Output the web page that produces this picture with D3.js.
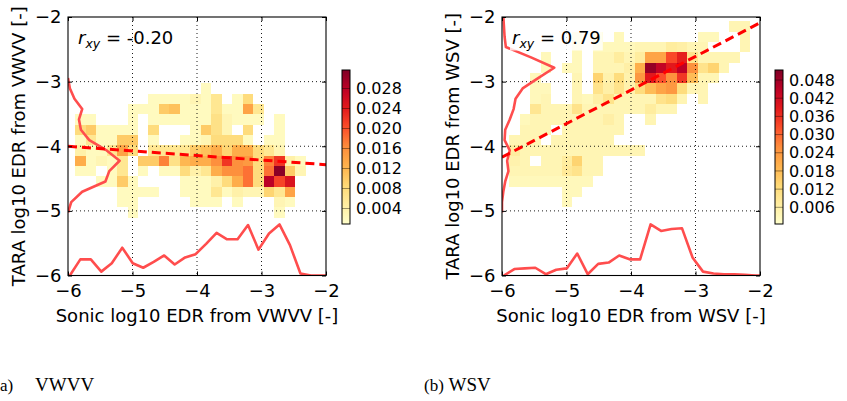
<!DOCTYPE html>
<html lang="en">
<head>
<meta charset="UTF-8">
<title>TARA vs sonic EDR</title>
<script src="https://d3js.org/d3.v7.min.js"></script>
<style>
  body { margin: 0; background: #fff; }
  svg text { font-family: "DejaVu Sans", sans-serif; fill: #000; }
  .caption { font-family: "Liberation Serif", "DejaVu Serif", serif; }
</style>
</head>
<body>
<svg width="847" height="401"></svg>
<script>
// histogram grid shared by both panels (log10 EDR)
const xBinStart = -5.89, xBinWidth = 0.1625;
const yBinStart = -2.065, yBinHeight = 0.16;

const axisTicks = [-6, -5, -4, -3, -2];
const vwvvBarTicks = [0.004, 0.008, 0.012, 0.016, 0.020, 0.024, 0.028];
const wsvBarTicks = [0.006, 0.012, 0.018, 0.024, 0.030, 0.036, 0.042, 0.048];
const vwvvBarRange = [0.0009, 0.0317];
const wsvBarRange = [0.0005, 0.0513];

// [row, column, density]; row 0 is the top bin, column 0 the left bin
const vwvvCells = [
  [6,12,.002],
  [7,7,.002],[7,8,.002],[7,9,.002],[7,10,.002],[7,11,.003],[7,12,.002],[7,13,.006],[7,15,.002],[7,16,.008],
  [8,5,.002],[8,6,.002],[8,7,.002],[8,8,.010],[8,9,.011],[8,10,.002],[8,11,.002],[8,12,.002],[8,13,.006],[8,14,.002],[8,15,.002],[8,16,.014],[8,17,.006],
  [9,0,.002],[9,1,.002],[9,5,.002],[9,7,.002],[9,8,.002],[9,9,.002],[9,10,.002],[9,11,.002],[9,12,.002],[9,13,.007],[9,14,.003],[9,15,.002],[9,16,.002],[9,17,.002],[9,19,.002],
  [10,0,.008],[10,1,.010],[10,2,.002],[10,3,.002],[10,4,.002],[10,5,.002],[10,7,.008],[10,11,.002],[10,12,.010],[10,13,.007],[10,14,.003],[10,16,.008],[10,19,.002],
  [11,0,.002],[11,1,.006],[11,2,.002],[11,3,.002],[11,4,.010],[11,5,.010],[11,7,.002],[11,10,.002],[11,11,.002],[11,12,.003],[11,13,.008],[11,14,.008],[11,15,.008],[11,16,.002],[11,18,.002],[11,19,.002],
  [12,0,.004],[12,1,.002],[12,2,.002],[12,3,.006],[12,4,.014],[12,5,.008],[12,7,.006],[12,8,.006],[12,9,.006],[12,10,.006],[12,11,.010],[12,12,.011],[12,13,.013],[12,14,.009],[12,15,.013],[12,16,.013],[12,17,.008],[12,18,.006],[12,19,.003],
  [13,0,.013],[13,1,.002],[13,2,.003],[13,3,.002],[13,4,.006],[13,6,.010],[13,7,.010],[13,8,.017],[13,9,.007],[13,10,.012],[13,11,.013],[13,12,.013],[13,13,.016],[13,14,.022],[13,15,.016],[13,16,.015],[13,17,.008],[13,18,.017],[13,19,.022],[13,20,.004],[13,21,.002],
  [14,0,.002],[14,1,.002],[14,3,.002],[14,4,.006],[14,6,.002],[14,8,.002],[14,9,.002],[14,10,.008],[14,11,.004],[14,12,.006],[14,13,.013],[14,14,.016],[14,15,.016],[14,16,.018],[14,17,.008],[14,18,.018],[14,19,.031],[14,20,.010],[14,21,.003],
  [15,2,.002],[15,3,.002],[15,4,.010],[15,5,.002],[15,10,.002],[15,11,.002],[15,12,.002],[15,13,.004],[15,14,.008],[15,15,.013],[15,16,.018],[15,17,.008],[15,18,.028],[15,19,.021],[15,20,.025],
  [16,4,.002],[16,5,.002],[16,6,.002],[16,7,.002],[16,10,.002],[16,11,.002],[16,12,.002],[16,13,.006],[16,14,.002],[16,15,.004],[16,16,.003],[16,17,.003],[16,18,.009],[16,19,.006],[16,20,.014],
  [17,4,.002],[17,5,.002],[17,11,.002],[17,12,.002],[17,13,.002],[17,15,.002],[17,19,.003],[17,20,.002],
  [18,5,.002],[18,19,.002]
];

const wsvCells = [
  [0,21,.004],[0,22,.004],
  [1,6,.003],[1,8,.003],[1,10,.003],[1,18,.003],[1,19,.003],[1,22,.004],
  [2,6,.003],[2,8,.003],[2,9,.003],[2,10,.003],[2,11,.003],[2,12,.004],[2,13,.004],[2,14,.004],[2,15,.007],[2,16,.006],[2,17,.004],[2,18,.004],[2,22,.004],
  [3,3,.003],[3,6,.003],[3,8,.004],[3,9,.004],[3,10,.007],[3,11,.004],[3,12,.007],[3,13,.022],[3,14,.022],[3,15,.033],[3,16,.038],[3,17,.010],[3,18,.004],[3,19,.004],[3,20,.004],[3,21,.004],
  [4,3,.003],[4,5,.003],[4,6,.003],[4,8,.004],[4,9,.004],[4,10,.004],[4,11,.006],[4,12,.020],[4,13,.049],[4,14,.044],[4,15,.039],[4,16,.045],[4,17,.025],[4,18,.010],[4,19,.014],[4,20,.004],
  [5,2,.003],[5,6,.004],[5,8,.014],[5,9,.005],[5,10,.012],[5,11,.005],[5,12,.024],[5,13,.039],[5,14,.032],[5,15,.025],[5,16,.035],[5,17,.018],[5,18,.004],[5,19,.004],
  [6,2,.003],[6,3,.003],[6,6,.004],[6,8,.010],[6,9,.006],[6,10,.010],[6,11,.005],[6,12,.012],[6,13,.018],[6,14,.022],[6,15,.024],[6,16,.012],[6,17,.004],[6,18,.004],
  [7,2,.003],[7,3,.004],[7,6,.004],[7,7,.003],[7,8,.006],[7,9,.010],[7,10,.004],[7,11,.004],[7,12,.004],[7,13,.004],[7,14,.010],[7,15,.012],[7,16,.004],[7,18,.004],
  [8,2,.009],[8,3,.004],[8,4,.004],[8,5,.004],[8,6,.010],[8,7,.004],[8,8,.004],[8,9,.004],[8,10,.004],[8,11,.004],[8,12,.004],[8,13,.007],[8,14,.004],[8,15,.004],
  [9,1,.003],[9,2,.004],[9,3,.004],[9,4,.004],[9,5,.004],[9,6,.004],[9,7,.004],[9,8,.004],[9,9,.006],[9,10,.004],[9,13,.004],
  [10,1,.004],[10,2,.004],[10,3,.004],[10,5,.004],[10,6,.004],[10,7,.004],[10,8,.004],[10,9,.004],[10,10,.004],
  [11,0,.004],[11,1,.004],[11,2,.004],[11,4,.004],[11,5,.004],[11,6,.004],[11,7,.004],[11,8,.004],[11,9,.004],
  [12,0,.007],[12,1,.004],[12,2,.004],[12,3,.004],[12,4,.004],[12,5,.004],[12,6,.004],[12,7,.004],[12,8,.004],[12,9,.004],[12,10,.004],[12,11,.004],[12,12,.004],
  [13,0,.005],[13,1,.004],[13,3,.004],[13,4,.004],[13,5,.007],[13,6,.014],[13,7,.004],[13,8,.004],
  [14,0,.004],[14,1,.004],[14,2,.004],[14,3,.004],[14,4,.004],[14,5,.008],[14,6,.010],[14,7,.004],[14,8,.004],
  [15,0,.003],[15,1,.003],[15,2,.003],[15,3,.003],[15,4,.003],[15,5,.003],[15,6,.003],[15,7,.003],
  [16,5,.003],[16,6,.003],
  [17,5,.003]
];

// marginal distributions drawn along the axes (in axis units)
const vwvvMarginXStart = -1;
const vwvvMarginX = [-6.0, -5.75, -5.75, -5.94, -5.81, -5.57, -5.81, -5.88, -5.79, -5.69, -5.83, -5.72, -5.67,
  -5.51, -5.34, -5.44, -5.44, -5.22, -5.60, -5.35, -5.21, -5.53, -5.97, -6.0, -6.0, -6.0];
const wsvMarginXStart = -1;
const wsvMarginX = [-6.0, -5.90, -5.89, -5.88, -5.98, -5.91, -5.89, -5.66, -5.98, -5.82, -5.80, -5.69, -5.75,
  -5.75, -5.21, -5.31, -5.28, -5.27, -5.72, -5.94, -5.97, -5.98, -5.98, -5.99, -6.0, -6.0];
const vwvvMarginYStart = 5;
const vwvvMarginY = [-6.0, -5.97, -5.90, -5.78, -5.83, -5.80, -5.67, -5.40, -5.20, -5.36, -5.42, -5.78, -5.95, -6.0];
const wsvMarginYStart = -1;
const wsvMarginY = [-5.98, -5.97, -5.96, -5.94, -5.55, -5.19, -5.44, -5.68, -5.79, -5.82, -5.88, -5.95, -5.96,
  -5.88, -5.92, -5.90, -5.95, -5.98, -6.0, -6.0];

// linear fits [slope, intercept]
const vwvvFit = [-0.0713, -4.428];
const wsvFit = [0.52, -1.05];
const vwvvCorr = "-0.20";
const wsvCorr = "0.79";

const ylOrRd = ["#ffffcc", "#ffeda0", "#fed976", "#feb24c", "#fd8d3c", "#fc4e2a", "#e31a1c", "#bd0026", "#800026"];

const svg = d3.select("svg");
const plotTop = 17, plotW = 258, plotH = 258.5;
const margColor = "#ff4d4d";

const panels = [
  { id: "a", left: 68, barLeft: 342, cells: vwvvCells, mx: vwvvMarginX, mxStart: vwvvMarginXStart,
    my: vwvvMarginY, myStart: vwvvMarginYStart, fit: vwvvFit, corr: vwvvCorr, range: vwvvBarRange,
    barTicks: vwvvBarTicks, xLabel: "Sonic log10 EDR from VWVV [-]", yLabel: "TARA log10 EDR from VWVV [-]", box: false },
  { id: "b", left: 502, barLeft: 775, cells: wsvCells, mx: wsvMarginX, mxStart: wsvMarginXStart,
    my: wsvMarginY, myStart: wsvMarginYStart, fit: wsvFit, corr: wsvCorr, range: wsvBarRange,
    barTicks: wsvBarTicks, xLabel: "Sonic log10 EDR from WSV [-]", yLabel: "TARA log10 EDR from WSV [-]", box: true }
];

const defs = svg.append("defs");

panels.forEach(p => {
  const x = d3.scaleLinear().domain([-6, -2]).range([p.left, p.left + plotW]);
  const y = d3.scaleLinear().domain([-6, -2]).range([plotTop + plotH, plotTop]);
  const [lo, hi] = p.range;
  const color = d3.scaleLinear()
    .domain(ylOrRd.map((_, i) => lo + i * (hi - lo) / (ylOrRd.length - 1)))
    .range(ylOrRd).clamp(true);

  const xEdge = c => xBinStart + c * xBinWidth;
  const yEdge = r => yBinStart - r * yBinHeight;

  defs.append("clipPath").attr("id", "clip-" + p.id)
    .append("rect").attr("x", p.left).attr("y", plotTop).attr("width", plotW).attr("height", plotH);

  const g = svg.append("g");
  const inner = g.append("g").attr("clip-path", `url(#clip-${p.id})`);

  // 2d histogram
  inner.append("g").attr("shape-rendering", "crispEdges")
    .selectAll("rect").data(p.cells).join("rect")
    .attr("x", d => x(xEdge(d[1])))
    .attr("y", d => y(yEdge(d[0])))
    .attr("width", d => x(xEdge(d[1] + 1)) - x(xEdge(d[1])))
    .attr("height", d => y(yEdge(d[0] + 1)) - y(yEdge(d[0])))
    .attr("fill", d => color(d[2]));

  // dotted grid
  const inside = axisTicks.slice(1, -1);
  inner.append("g").selectAll("line").data(inside).join("line")
    .attr("x1", d => x(d)).attr("x2", d => x(d)).attr("y1", plotTop).attr("y2", plotTop + plotH)
    .attr("stroke", "#000").attr("stroke-width", 0.9).attr("stroke-dasharray", "1,3");
  inner.append("g").selectAll("line").data(inside).join("line")
    .attr("y1", d => y(d)).attr("y2", d => y(d)).attr("x1", p.left).attr("x2", p.left + plotW)
    .attr("stroke", "#000").attr("stroke-width", 0.9).attr("stroke-dasharray", "1,3");

  // marginal distributions
  const lineX = d3.line()
    .x((v, i) => x(xEdge(p.mxStart + i) + xBinWidth / 2))
    .y(v => y(v));
  inner.append("path").datum(p.mx).attr("d", lineX)
    .attr("fill", "none").attr("stroke", margColor).attr("stroke-width", 2.6).attr("stroke-linejoin", "round");
  const lineY = d3.line()
    .x(v => x(v))
    .y((v, i) => y(yEdge(p.myStart + i) - yBinHeight / 2));
  inner.append("path").datum(p.my).attr("d", lineY)
    .attr("fill", "none").attr("stroke", margColor).attr("stroke-width", 2.6).attr("stroke-linejoin", "round");

  // regression line
  inner.append("line")
    .attr("x1", x(-6)).attr("y1", y(p.fit[1] + p.fit[0] * -6))
    .attr("x2", x(-2)).attr("y2", y(p.fit[1] + p.fit[0] * -2))
    .attr("stroke", "#ff0000").attr("stroke-width", 3).attr("stroke-dasharray", "9,5");

  // correlation label
  const txt = g.append("text").attr("x", p.left + 10).attr("y", plotTop + 26.5).style("font-size", "18px");
  txt.append("tspan").attr("font-style", "italic").text("r");
  txt.append("tspan").attr("font-style", "italic").attr("dy", 4).style("font-size", "12.5px").text("xy");
  txt.append("tspan").attr("dy", -4).text("\u00a0=\u00a0" + p.corr);
  if (p.box) {
    const bb = txt.node().getBBox();
    g.insert("rect", "text").attr("x", bb.x - 2).attr("y", bb.y).attr("width", bb.width + 4).attr("height", bb.height)
      .attr("fill", "#fff").attr("opacity", 0.8);
  }

  // axes with inward ticks on all sides
  const fmt = d3.format("d");
  const axes = [
    [d3.axisBottom(x).tickFormat(fmt).tickPadding(8.5), `translate(0,${plotTop + plotH})`],
    [d3.axisTop(x).tickFormat(""), `translate(0,${plotTop})`],
    [d3.axisLeft(y).tickFormat(fmt).tickPadding(6.5), `translate(${p.left},0)`],
    [d3.axisRight(y).tickFormat(""), `translate(${p.left + plotW},0)`]
  ];
  axes.forEach(([ax, tr]) => {
    const a = g.append("g").attr("transform", tr)
      .call(ax.tickValues(axisTicks).tickSize(-4).tickSizeOuter(0));
    a.select(".domain").remove();
    a.selectAll("line").attr("stroke", "#000");
    a.selectAll("text").style("font-size", "18px").attr("fill", "#000").style("font-family", "DejaVu Sans");
  });
  g.append("rect").attr("x", p.left).attr("y", plotTop).attr("width", plotW).attr("height", plotH)
    .attr("fill", "none").attr("stroke", "#000").attr("stroke-width", 1.1);

  g.append("text").attr("x", p.left + plotW / 2).attr("y", 322).attr("text-anchor", "middle")
    .style("font-size", "18px").text(p.xLabel);
  g.append("text").attr("transform", `translate(${p.left - 43.5},${plotTop + plotH / 2}) rotate(-90)`)
    .attr("text-anchor", "middle").style("font-size", "18px").text(p.yLabel);

  // colour bar
  const barTop = 70, barBottom = 224, barW = 8;
  const yc = d3.scaleLinear().domain(p.range).range([barBottom, barTop]);
  const grad = defs.append("linearGradient").attr("id", "grad-" + p.id)
    .attr("x1", 0).attr("y1", 1).attr("x2", 0).attr("y2", 0);
  grad.selectAll("stop").data(d3.range(0, 1.0001, 0.05)).join("stop")
    .attr("offset", t => t).attr("stop-color", t => color(lo + t * (hi - lo)));
  g.append("rect").attr("x", p.barLeft).attr("y", barTop).attr("width", barW).attr("height", barBottom - barTop)
    .attr("fill", `url(#grad-${p.id})`);
  g.append("g").selectAll("line").data(p.barTicks).join("line")
    .attr("x1", p.barLeft).attr("x2", p.barLeft + barW)
    .attr("y1", d => yc(d)).attr("y2", d => yc(d))
    .attr("stroke", "#000").attr("stroke-opacity", 0.4).attr("stroke-width", 1);
  g.append("rect").attr("x", p.barLeft).attr("y", barTop).attr("width", barW).attr("height", barBottom - barTop)
    .attr("fill", "none").attr("stroke", "#000").attr("stroke-width", 1);
  const cb = g.append("g").attr("transform", `translate(${p.barLeft + barW},0)`)
    .call(d3.axisRight(yc).tickValues(p.barTicks).tickFormat(d3.format(".3f")).tickSize(0).tickPadding(6));
  cb.select(".domain").remove();
  cb.selectAll("text").style("font-size", "16px").attr("fill", "#000").style("font-family", "DejaVu Sans");
});

// sub-figure captions
const cap1 = svg.append("text").attr("class", "caption").attr("x", -5.7).attr("y", 391);
cap1.append("tspan").style("font-size", "17px").text("(a)");
svg.append("text").attr("class", "caption").attr("x", 35).attr("y", 391).style("font-size", "19px").text("VWVV");
const cap2 = svg.append("text").attr("class", "caption").attr("x", 424).attr("y", 391);
cap2.append("tspan").style("font-size", "17px").text("(b)");
cap2.append("tspan").style("font-size", "19px").text("\u00a0WSV");
</script>
</body>
</html>
